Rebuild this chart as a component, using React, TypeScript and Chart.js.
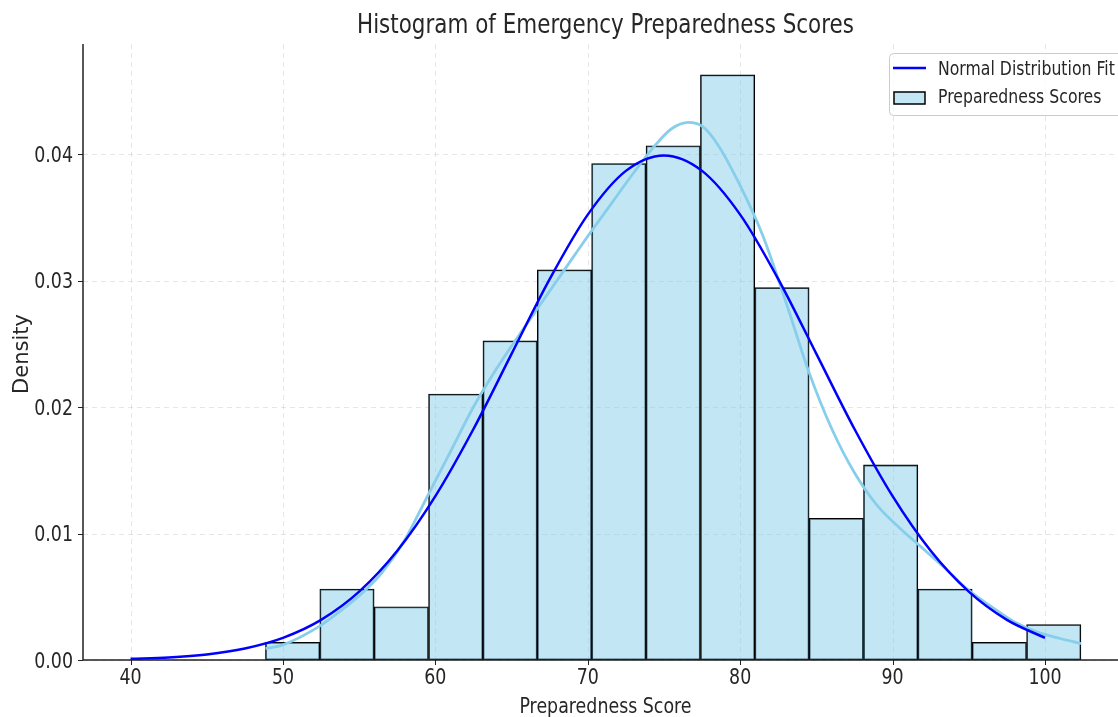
import React, { useEffect, useRef } from "react";
import { Chart, registerables } from "chart.js";

Chart.register(...registerables);

// ---- data ----
const binEdges = [48.85, 52.42, 55.98, 59.55, 63.12, 66.69, 70.25, 73.82, 77.39, 80.96, 84.52, 88.09, 91.66, 95.22, 98.79, 102.36];
const binDensity = [0.0014, 0.00561, 0.00421, 0.02103, 0.02523, 0.03084, 0.03925, 0.04065, 0.04626, 0.02944, 0.01121, 0.01542, 0.00561, 0.0014, 0.0028];

const normalX = [40, 42.5, 45, 47.5, 50, 52.5, 55, 57.5, 60, 62.5, 65, 67.5, 70, 72.5, 75, 77.5, 80, 82.5, 85, 87.5, 90, 92.5, 95, 97.5, 100];
const normalY = [0.00009, 0.0002, 0.00044, 0.00091, 0.00175, 0.00317, 0.0054, 0.00863, 0.01295, 0.01826, 0.0242, 0.03011, 0.03521, 0.03867, 0.03989, 0.03867, 0.03521, 0.03011, 0.0242, 0.01826, 0.01295, 0.00863, 0.0054, 0.00317, 0.00175];

const kdeX = [48.85, 50, 52.3, 53.8, 55.3, 56.5, 58, 59.5, 61, 62.5, 64, 65.5, 67, 68.5, 70, 71.5, 73, 74.5, 75.5, 76.6, 77.5, 78.5, 80, 81.5, 83, 84.5, 86, 87.5, 89, 90.5, 92, 93.5, 95, 96.5, 98, 99.5, 101, 102.36];
const kdeY = [0.0009, 0.0012, 0.0026, 0.0039, 0.0054, 0.0069, 0.0095, 0.013, 0.0165, 0.02, 0.023, 0.0257, 0.0283, 0.0309, 0.0335, 0.036, 0.0385, 0.0408, 0.042, 0.0425, 0.0422, 0.0408, 0.0375, 0.0335, 0.0283, 0.0228, 0.0183, 0.0148, 0.0122, 0.0104, 0.0088, 0.0072, 0.0055, 0.0042, 0.003, 0.0022, 0.0017, 0.0013];

const xTicks = [40, 50, 60, 70, 80, 90, 100];
const xTickLabels = ["40", "50", "60", "70", "80", "90", "100"];
const yTicks = [0, 0.01, 0.02, 0.03, 0.04];
const yTickLabels = ["0.00", "0.01", "0.02", "0.03", "0.04"];

const titleText = "Histogram of Emergency Preparedness Scores";
const xLabel = "Preparedness Score";
const yLabel = "Density";
const legendLabels = ["Normal Distribution Fit", "Preparedness Scores"];

// ---- styles ----
const FONT = "'DejaVu Sans', sans-serif";
const SX = 0.81;
const TEXT = "#262626";
const BAR_FILL = "rgba(135,206,235,0.5)";
const KDE_COLOR = "rgb(135,206,235)";
const NORMAL_COLOR = "#0000ff";

function hText(ctx: CanvasRenderingContext2D, t: string, x: number, y: number, align: CanvasTextAlign, size: number) {
  ctx.save();
  ctx.translate(x, y);
  ctx.scale(SX, 1);
  ctx.font = `${size}px ${FONT}`;
  ctx.fillStyle = TEXT;
  ctx.textAlign = align;
  ctx.textBaseline = "alphabetic";
  ctx.fillText(t, 0, 0);
  ctx.restore();
}

const decor = {
  id: "decor",
  beforeDatasetsDraw(chart: any) {
    const ctx = chart.ctx as CanvasRenderingContext2D;
    const { left, right, top, bottom } = chart.chartArea;
    const xs = chart.scales.x;
    const ys = chart.scales.y;
    ctx.save();
    ctx.strokeStyle = "rgba(176,176,176,0.32)";
    ctx.lineWidth = 1;
    ctx.setLineDash([5, 4]);
    xTicks.forEach((v) => {
      const px = Math.round(xs.getPixelForValue(v)) + 0.5;
      ctx.beginPath();
      ctx.moveTo(px, top);
      ctx.lineTo(px, bottom);
      ctx.stroke();
    });
    yTicks.forEach((v) => {
      const py = Math.round(ys.getPixelForValue(v)) + 0.5;
      ctx.beginPath();
      ctx.moveTo(left, py);
      ctx.lineTo(right, py);
      ctx.stroke();
    });
    ctx.restore();
  },
  afterDatasetsDraw(chart: any) {
    const ctx = chart.ctx as CanvasRenderingContext2D;
    const { left, right, top, bottom } = chart.chartArea;
    const xs = chart.scales.x;
    const ys = chart.scales.y;
    ctx.save();
    // spines
    ctx.strokeStyle = "#222";
    ctx.lineWidth = 1.5;
    ctx.beginPath();
    ctx.moveTo(left, top);
    ctx.lineTo(left, bottom);
    ctx.lineTo(right, bottom);
    ctx.stroke();
    // tick marks
    ctx.lineWidth = 1;
    xTicks.forEach((v) => {
      const px = Math.round(xs.getPixelForValue(v)) + 0.5;
      ctx.beginPath();
      ctx.moveTo(px, bottom);
      ctx.lineTo(px, bottom + 5);
      ctx.stroke();
    });
    yTicks.forEach((v) => {
      const py = Math.round(ys.getPixelForValue(v)) + 0.5;
      ctx.beginPath();
      ctx.moveTo(left - 5, py);
      ctx.lineTo(left, py);
      ctx.stroke();
    });
    ctx.restore();

    // tick labels
    xTicks.forEach((v, i) => {
      hText(ctx, xTickLabels[i], xs.getPixelForValue(v), 684, "center", 21.5);
    });
    yTicks.forEach((v, i) => {
      hText(ctx, yTickLabels[i], left - 10, ys.getPixelForValue(v) + 7.8, "right", 21.5);
    });

    // axis titles
    hText(ctx, xLabel, (left + 1128) / 2, 713, "center", 21.5);
    ctx.save();
    ctx.translate(28, 354);
    ctx.rotate(-Math.PI / 2);
    ctx.font = `21px ${FONT}`;
    ctx.fillStyle = TEXT;
    ctx.textAlign = "center";
    ctx.textBaseline = "alphabetic";
    ctx.fillText(yLabel, 0, 0);
    ctx.restore();

    // title
    hText(ctx, titleText, (left + 1128) / 2, 33, "center", 26.5);

    // legend
    ctx.save();
    ctx.fillStyle = "rgba(255,255,255,0.8)";
    ctx.strokeStyle = "#cccccc";
    ctx.lineWidth = 1;
    ctx.beginPath();
    (ctx as any).roundRect(889.5, 53.5, 260, 62, 4);
    ctx.fill();
    ctx.stroke();
    ctx.strokeStyle = NORMAL_COLOR;
    ctx.lineWidth = 2.5;
    ctx.beginPath();
    ctx.moveTo(893, 68);
    ctx.lineTo(926, 68);
    ctx.stroke();
    ctx.fillStyle = BAR_FILL;
    ctx.fillRect(894, 92, 31, 12);
    ctx.strokeStyle = "#000";
    ctx.lineWidth = 1.5;
    ctx.strokeRect(894, 92, 31, 12);
    ctx.restore();
    hText(ctx, legendLabels[0], 938, 75, "left", 19.4);
    hText(ctx, legendLabels[1], 938, 103, "left", 19.4);
  },
};

export default function App() {
  const ref = useRef<HTMLCanvasElement | null>(null);
  useEffect(() => {
    if (!ref.current) return;
    const centers = binDensity.map((_, i) => (binEdges[i] + binEdges[i + 1]) / 2);
    const chart = new Chart(ref.current, {
      type: "bar",
      data: {
        datasets: [
          {
            type: "line",
            label: legendLabels[0],
            data: normalX.map((x, i) => ({ x, y: normalY[i] })),
            borderColor: NORMAL_COLOR,
            borderWidth: 2.5,
            pointRadius: 0,
            cubicInterpolationMode: "monotone",
            order: 1,
          } as any,
          {
            type: "line",
            label: "KDE",
            data: kdeX.map((x, i) => ({ x, y: kdeY[i] })),
            borderColor: KDE_COLOR,
            borderWidth: 2.8,
            pointRadius: 0,
            cubicInterpolationMode: "monotone",
            order: 2,
          } as any,
          {
            type: "bar",
            label: legendLabels[1],
            data: centers.map((x, i) => ({ x, y: binDensity[i] })),
            backgroundColor: BAR_FILL,
            borderColor: "#000",
            borderWidth: 1.1,
            borderSkipped: false,
            barPercentage: 1,
            categoryPercentage: 1,
            order: 3,
          } as any,
        ],
      },
      options: {
        animation: false,
        responsive: false,
        devicePixelRatio: 1,
        layout: { padding: { top: 44, left: 0, right: 0, bottom: 0 } },
        plugins: {
          legend: { display: false },
          title: { display: false },
          tooltip: { enabled: false },
        },
        scales: {
          x: {
            type: "linear",
            min: 36.88,
            max: 104.79,
            offset: false,
            grid: { display: false, offset: false },
            border: { display: false },
            ticks: { display: false },
            afterBuildTicks: (s: any) => {
              s.ticks = xTicks.map((v) => ({ value: v }));
            },
            afterFit: (s: any) => {
              s.height = 57;
            },
          },
          y: {
            type: "linear",
            min: 0,
            max: 0.0487,
            grid: { display: false },
            border: { display: false },
            ticks: { display: false },
            afterBuildTicks: (s: any) => {
              s.ticks = yTicks.map((v) => ({ value: v }));
            },
            afterFit: (s: any) => {
              s.width = 83;
            },
          },
        },
      } as any,
      plugins: [decor],
    });
    return () => chart.destroy();
  }, []);
  return (
    <div style={{ position: "fixed", left: 0, top: 0, width: 1118, height: 717, overflow: "hidden", background: "#fff" }}>
      <canvas ref={ref} width={1118} height={717} style={{ width: 1118, height: 717, display: "block" }} />
    </div>
  );
}
